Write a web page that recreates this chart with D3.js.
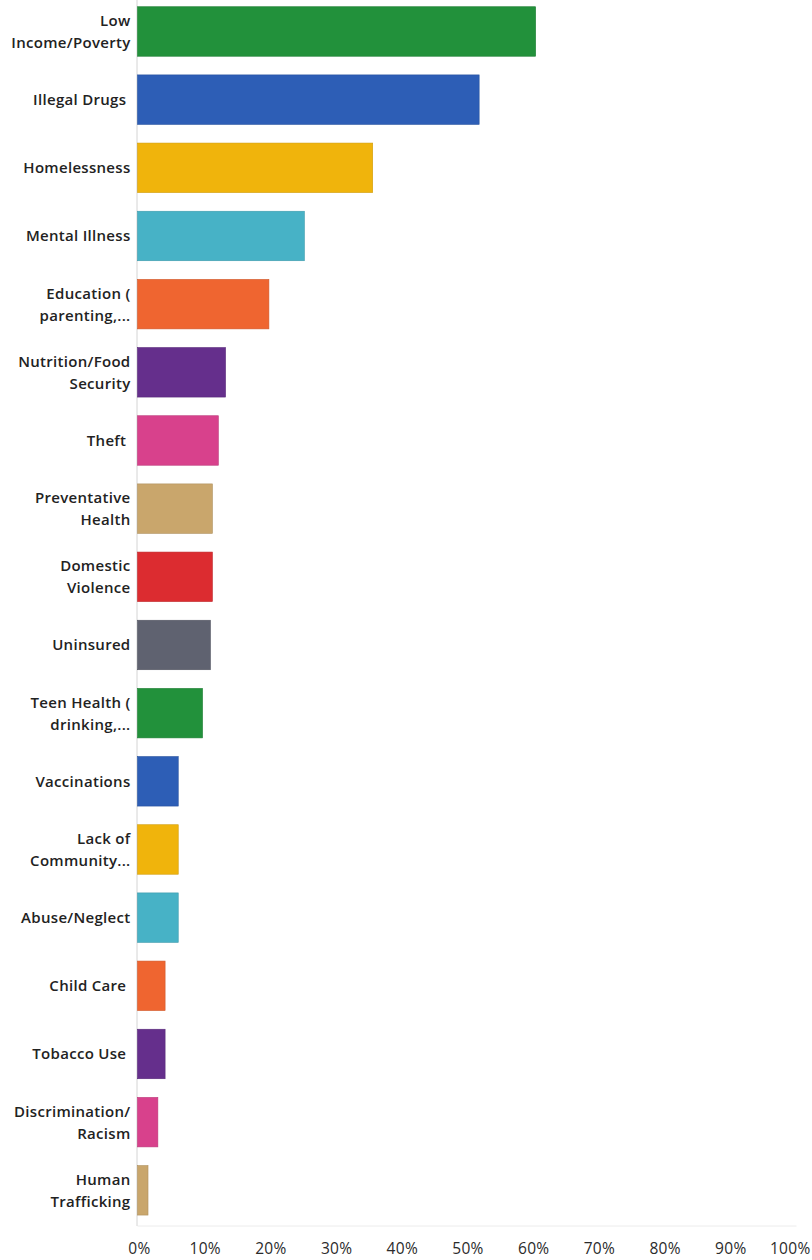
<!DOCTYPE html>
<html>
<head>
<meta charset="utf-8">
<script src="https://cdn.jsdelivr.net/npm/d3@7"></script>
<style>
  html, body { margin: 0; padding: 0; background: #ffffff; }
  svg { display: block; }
  text { font-family: "Open Sans", "DejaVu Sans", sans-serif; }
</style>
</head>
<body>
<svg id="chart" width="812" height="1260"></svg>
<script>
// Survey answer choices (line breaks mark wrapped labels)
const categories = [
  "Low\nIncome/Poverty",
  "Illegal Drugs ",
  "Homelessness",
  "Mental Illness",
  "Education (\nparenting,...",
  "Nutrition/Food\nSecurity",
  "Theft ",
  "Preventative\nHealth",
  "Domestic\nViolence",
  "Uninsured",
  "Teen Health (\ndrinking,...",
  "Vaccinations",
  "Lack of\nCommunity...",
  "Abuse/Neglect",
  "Child Care ",
  "Tobacco Use ",
  "Discrimination/\nRacism",
  "Human\nTrafficking"
];

// Share of respondents choosing each answer (0..1)
const shares = [
  0.606, 0.520, 0.358, 0.254, 0.200, 0.134, 0.123, 0.114, 0.114,
  0.111, 0.099, 0.062, 0.062, 0.062, 0.042, 0.042, 0.031, 0.016
];

// Axis tick values and their labels
const tickValues = [0, 0.1, 0.2, 0.3, 0.4, 0.5, 0.6, 0.7, 0.8, 0.9, 1.0];
const tickLabels = ["0%", "10%", "20%", "30%", "40%", "50%", "60%", "70%", "80%", "90%", "100%"];

// Repeating bar palette
const palette = [
  "#22913b", "#2d5eb6", "#f0b40c", "#47b2c6", "#ef6530",
  "#652f8c", "#d8418c", "#c9a66c", "#dc2c30", "#5f6270"
];

const svg = d3.select("#chart");

const x = d3.scaleLinear().domain([0, 1]).range([137.5, 794.5]);
const y = d3.scaleBand()
  .domain(d3.range(categories.length))
  .range([-2.6, 1224.4])
  .paddingInner(0.274)
  .paddingOuter(0.137);

// Faint baseline and left axis rule
svg.append("line")
  .attr("x1", x(0)).attr("x2", x(1) + 2)
  .attr("y1", 1226).attr("y2", 1226)
  .attr("stroke", "#ececec").attr("stroke-width", 1);

svg.append("line")
  .attr("x1", x(0) - 0.5).attr("x2", x(0) - 0.5)
  .attr("y1", 0).attr("y2", 1226)
  .attr("stroke", "#d4d4d4").attr("stroke-width", 1);

// Bars
svg.append("g")
  .selectAll("rect")
  .data(shares)
  .join("rect")
  .attr("x", x(0))
  .attr("y", (d, i) => y(i))
  .attr("width", d => x(d) - x(0))
  .attr("height", y.bandwidth())
  .attr("fill", (d, i) => palette[i % palette.length])
  .attr("stroke", (d, i) => d3.color(palette[i % palette.length]).darker(0.4))
  .attr("stroke-width", 0.6);

// Category labels, right-aligned next to the axis
const labels = svg.append("g")
  .selectAll("text")
  .data(categories)
  .join("text")
  .attr("xml:space", "preserve")
  .style("white-space", "pre")
  .attr("text-anchor", "end")
  .attr("fill", "#222222")
  .attr("font-size", 15)
  .attr("letter-spacing", 0.3)
  .attr("font-weight", 600);

labels.each(function (d, i) {
  const lines = d.split("\n");
  const cy = y(i) + y.bandwidth() / 2;
  const lineGap = 22;
  const top = cy - (lines.length - 1) * lineGap / 2;
  d3.select(this).selectAll("tspan")
    .data(lines)
    .join("tspan")
    .attr("x", 130.5)
    .attr("y", (t, k) => top + k * lineGap + 5.5)
    .text(t => t);
});

// X axis tick labels
const axis = d3.axisBottom(x)
  .tickValues(tickValues)
  .tickSize(0)
  .tickPadding(0)
  .tickFormat((d, i) => tickLabels[i]);

const ax = svg.append("g")
  .attr("transform", "translate(1.5,1243)")
  .call(axis);
ax.select(".domain").remove();
ax.selectAll("text")
  .attr("font-family", "\"Open Sans\", sans-serif")
  .attr("font-size", 15.5)
  .attr("letter-spacing", 0.3)
  .attr("fill", "#2b2b2b")
  .attr("dy", "0.71em");
// Keep the last label inside the page
ax.selectAll(".tick")
  .filter(d => d === 1)
  .select("text")
  .attr("text-anchor", "end")
  .attr("x", 810 - 1.5 - x(1));
</script>
</body>
</html>
